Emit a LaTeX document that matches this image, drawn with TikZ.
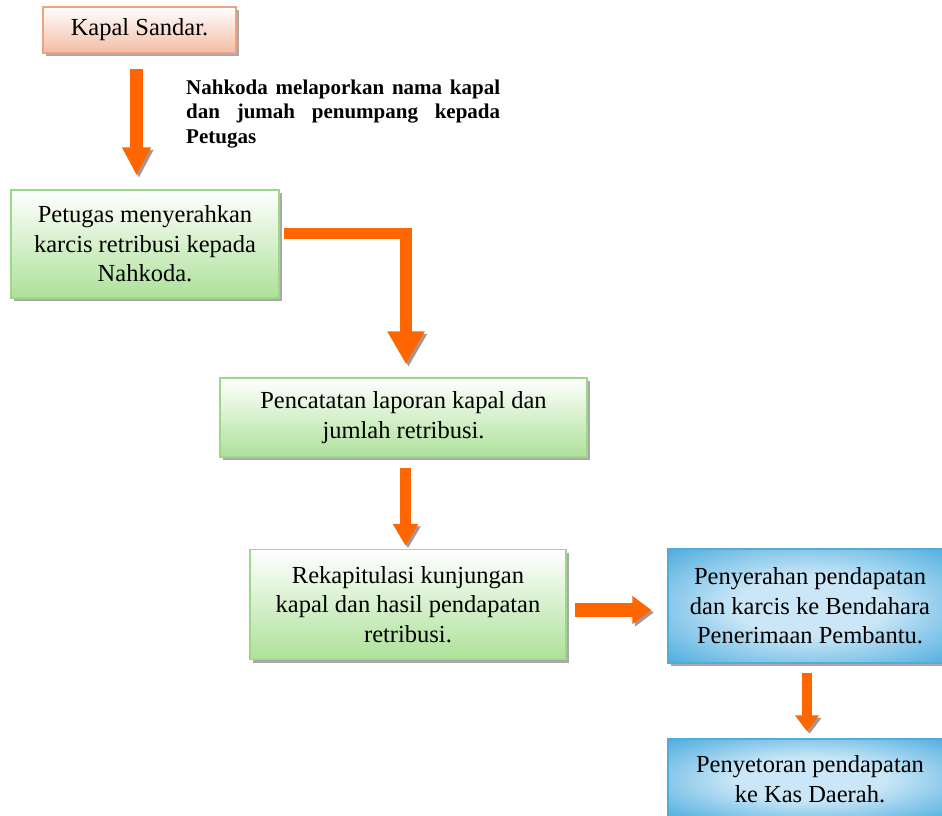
\documentclass[tikz,border=0pt]{standalone}
\usepackage{fontspec}
\setmainfont{Liberation Serif}
\usetikzlibrary{arrows.meta,shadows}
\definecolor{arroworange}{HTML}{FF6600}
\definecolor{arrowshadow}{HTML}{A8968E}
\definecolor{boxshadow}{HTML}{A9A9A9}
\definecolor{greenborder}{HTML}{9CD888}
\definecolor{greenfill}{HTML}{ADE199}
\definecolor{peachborder}{HTML}{EBA384}
\definecolor{peachfill}{HTML}{F3BCA3}
\definecolor{blueborder}{HTML}{4FADDC}
\definecolor{bluelight}{HTML}{CBE7F7}
\definecolor{bluedark}{HTML}{3FA6DB}
\pgfdeclareradialshading{blueglow}{\pgfpoint{0bp}{0bp}}{color(0bp)=(bluelight); color(13bp)=(bluelight); color(38bp)=(bluedark); color(50bp)=(bluedark)}
\tikzset{
  box/.style={line width=1.3pt, align=center, inner sep=0pt,
    font=\fontsize{24.5}{29.5}\selectfont,
    drop shadow={shadow xshift=3pt, shadow yshift=-3pt, fill=boxshadow, opacity=1}},
  peachbox/.style={box, draw=peachborder, top color=white, bottom color=peachfill},
  greenbox/.style={box, draw=greenborder, top color=white, bottom color=greenfill},
  bluebox/.style={box, draw=blueborder, shading=blueglow},
  flow/.style n args={3}{draw=arroworange, line width=#1,
    -{Triangle[width=#2, length=#3]},
    preaction={draw=arrowshadow, transform canvas={xshift=2.5pt, yshift=-2.5pt}}},
  note/.style={anchor=north west, inner sep=0pt},
}
\begin{document}
\begin{tikzpicture}[x=1pt,y=-1pt]
\useasboundingbox (0,0) rectangle (942,816);
\clip (0,0) rectangle (942,816);

\node[peachbox, minimum width=193pt, minimum height=46pt] (kapal) at (139.5,30) {Kapal Sandar.};
\node[greenbox, minimum width=268pt, minimum height=108pt] (petugas) at (145,244)
  {Petugas menyerahkan\\karcis retribusi kepada\\Nahkoda.};
\node[greenbox, minimum width=367pt, minimum height=79pt] (pencatatan) at (403.5,417.5)
  {Pencatatan laporan kapal dan\\jumlah retribusi.};
\node[greenbox, minimum width=316pt, minimum height=110pt] (rekap) at (408,604.5)
  {Rekapitulasi kunjungan\\kapal dan hasil pendapatan\\retribusi.};
\node[bluebox, minimum width=284pt, minimum height=114pt] (penyerahan) at (810,606)
  {Penyerahan pendapatan\\dan karcis ke Bendahara\\Penerimaan Pembantu.};
\node[bluebox, minimum width=284pt, minimum height=80pt] (penyetoran) at (810,779)
  {Penyetoran pendapatan\\ke Kas Daerah.};

\node[note] (lapor) at (186,79.7)
  {\begin{minipage}[t]{314pt}\fontsize{21}{24.5}\selectfont\bfseries
   \hyphenpenalty=10000 \exhyphenpenalty=10000 \tolerance=10000 \parindent=0pt
   Nahkoda melaporkan nama kapal\linebreak dan jumah penumpang kepada\linebreak Petugas\end{minipage}};

\draw[flow={13pt}{27pt}{28pt}, shorten <=15pt, shorten >=14pt]
  ([xshift=-3pt]kapal.south) -- ([xshift=-3pt]kapal.south |- petugas.north);
\draw[flow={11.5pt}{35pt}{33pt}, shorten <=4pt, shorten >=13pt]
  ([yshift=10.5pt]petugas.east) -| ([xshift=2.5pt]pencatatan.north);
\draw[flow={11pt}{24pt}{22pt}, shorten <=10pt, shorten >=3pt]
  ([xshift=2pt]pencatatan.south) -- ([xshift=2pt]pencatatan.south |- rekap.north);
\draw[flow={14pt}{27pt}{19pt}, shorten <=8pt, shorten >=16pt]
  ([yshift=-5.5pt]rekap.east) -- ([yshift=-5.5pt]rekap.east -| penyerahan.west);
\draw[flow={10pt}{23pt}{16pt}, shorten <=9pt, shorten >=7pt]
  ([xshift=-3pt]penyerahan.south) -- ([xshift=-3pt]penyerahan.south |- penyetoran.north);
\end{tikzpicture}
\end{document}
